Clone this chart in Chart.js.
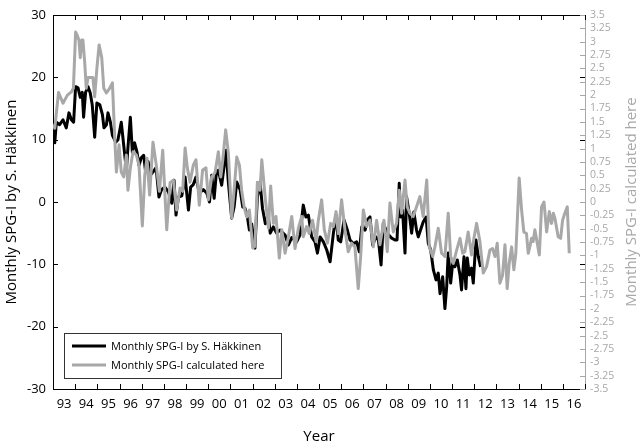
<!DOCTYPE html>
<html>
<head>
<meta charset="utf-8">
<script src="https://cdn.jsdelivr.net/npm/chart.js@4/dist/chart.umd.min.js"></script>
<style>
html,body{margin:0;padding:0;background:#fff;}
canvas{display:block;}
</style>
</head>
<body>
<canvas id="c" width="644" height="447"></canvas>
<script>
// ---------- data ----------
const blackYears = [
1993.00,1993.08,1993.15,1993.30,1993.45,1993.60,1993.72,1993.83,1993.93,
1994.02,1994.13,1994.23,1994.32,1994.38,1994.47,1994.58,1994.68,1994.77,1994.88,1994.98,
1995.11,1995.23,1995.30,1995.41,1995.48,1995.59,1995.68,1995.83,1995.93,
1996.08,1996.19,1996.31,1996.38,1996.49,1996.58,1996.68,1996.79,1996.88,1996.98,
1997.09,1997.18,1997.29,1997.39,1997.51,1997.65,1997.78,1997.90,
1998.05,1998.21,1998.36,1998.46,1998.55,1998.66,1998.81,1998.96,
1999.11,1999.21,1999.33,1999.45,1999.60,1999.78,1999.94,
2000.06,2000.16,2000.27,2000.36,2000.46,2000.61,2000.81,2000.91,
2001.06,2001.17,2001.29,2001.44,2001.56,2001.66,2001.77,2001.86,2001.96,
2002.11,2002.22,2002.34,2002.45,2002.58,2002.70,2002.80,2002.94,
2003.09,2003.24,2003.47,2003.62,2003.77,2003.99,
2004.14,2004.29,2004.41,2004.52,2004.67,2004.82,2004.93,
2005.05,2005.20,2005.35,2005.50,2005.65,2005.77,2005.87,2005.98,
2006.13,2006.28,2006.40,2006.55,2006.70,2006.82,2006.93,
2007.08,2007.18,2007.30,2007.42,2007.57,2007.68,2007.80,2007.90,
2008.08,2008.28,2008.43,2008.52,2008.62,2008.68,2008.77,2008.88,2008.95,
2009.07,2009.18,2009.28,2009.40,2009.48,2009.58,2009.70,2009.83,2009.93,
2010.04,2010.16,2010.28,2010.38,2010.46,2010.58,2010.68,2010.76,2010.83,2010.94,
2011.03,2011.13,2011.24,2011.36,2011.43,2011.54,2011.63,2011.69,2011.78,2011.88,2011.96,
2012.08,2012.19,2012.29
];
const blackValues = [
12.8,9.5,12.8,12.4,13.2,11.9,14.3,13.2,12.8,
18.5,18.3,16.8,17.6,13.6,17.6,18.5,17.5,15.6,10.4,15.9,
15.6,14.0,11.9,12.4,14.3,12.8,10.7,9.6,10.0,
12.8,9.1,5.1,8.7,13.6,8.0,9.5,8.0,5.9,7.1,
7.5,4.8,6.5,4.3,4.8,5.5,0.8,2.0,
2.4,1.6,-0.2,3.5,-2.1,0.8,1.0,4.0,
-1.3,2.4,2.8,4.0,1.4,2.0,1.4,
0.0,4.3,0.6,4.3,5.1,2.7,8.3,3.2,
-2.6,-0.8,3.2,2.0,-0.8,-1.0,-2.4,-4.5,-3.5,
-7.4,0.8,3.2,-1.0,-3.5,-2.0,-5.0,-4.0,
-5.0,-4.5,-5.3,-6.9,-5.7,-6.4,
-5.3,-0.5,-2.4,-2.1,-5.6,-6.4,-8.2,
-5.6,-6.4,-7.7,-9.6,-5.0,-2.1,-6.1,-6.4,
-2.9,-4.5,-6.1,-6.7,-6.4,-8.0,-4.0,
-4.5,-2.9,-2.4,-6.9,-5.6,-6.1,-10.1,-3.4,
-5.0,-5.8,-6.1,-6.1,3.0,-2.4,-1.3,-8.2,0.85,
-1.8,-5.0,-1.6,-4.5,-5.6,-4.5,-3.2,-2.4,-6.6,
-7.7,-10.9,-12.5,-11.4,-14.7,-12.0,-17.1,-13.6,-8.2,-13.0,
-9.8,-10.4,-9.3,-11.7,-14.1,-8.8,-13.9,-9.0,-11.7,-10.6,-13.0,
-6.1,-8.8,-10.4
];
const grayYears = [
1993.00,1993.08,1993.25,1993.45,1993.65,1993.83,1993.92,
1994.02,1994.08,1994.17,1994.23,1994.30,1994.35,1994.43,1994.50,1994.58,1994.80,1994.88,1994.98,
1995.08,1995.20,1995.29,1995.41,1995.56,1995.68,1995.78,1995.86,1995.98,
1996.08,1996.19,1996.31,1996.38,1996.49,1996.61,1996.76,1996.88,
1997.03,1997.14,1997.24,1997.36,1997.51,1997.66,1997.80,1997.95,
1998.13,1998.28,1998.43,1998.58,1998.73,1998.85,1998.96,
1999.06,1999.18,1999.33,1999.45,1999.60,1999.75,1999.90,
2000.01,2000.16,2000.31,2000.46,2000.57,2000.66,2000.79,2000.91,
2001.06,2001.17,2001.29,2001.41,2001.51,2001.62,2001.74,2001.86,
2002.01,2002.11,2002.22,2002.34,2002.42,2002.57,2002.72,2002.82,2002.94,
2003.06,2003.21,2003.32,2003.47,2003.62,2003.77,2003.92,
2004.07,2004.22,2004.29,2004.44,2004.56,2004.71,2004.87,2004.97,
2005.12,2005.24,2005.38,2005.53,2005.65,2005.77,2005.87,
2006.02,2006.17,2006.32,2006.47,2006.62,2006.77,2006.88,
2007.00,2007.15,2007.30,2007.45,2007.60,2007.75,2007.93,
2008.08,2008.20,2008.35,2008.50,2008.62,2008.73,2008.88,2008.98,
2009.10,2009.25,2009.40,2009.55,2009.70,2009.86,2009.98,
2010.13,2010.23,2010.38,2010.53,2010.68,2010.83,2010.94,
2011.06,2011.21,2011.36,2011.48,2011.58,2011.73,2011.88,2011.99,
2012.11,2012.26,2012.41,2012.56,2012.71,2012.83,2012.94,
2013.04,2013.16,2013.28,2013.39,2013.49,2013.58,2013.69,2013.79,2013.88,
2014.03,2014.14,2014.24,2014.36,2014.44,2014.51,2014.59,2014.66,2014.74,2014.82,2014.94,
2015.04,2015.15,2015.27,2015.39,2015.49,2015.57,2015.64,2015.79,2015.90,2015.99,
2016.09,2016.20,2016.29
];
const grayValues = [
1.45,1.38,2.05,1.85,2.0,2.06,2.13,
3.18,3.13,3.03,2.7,3.03,3.03,2.62,2.13,2.33,2.33,1.97,2.5,
2.94,2.7,2.13,2.04,2.13,2.23,1.25,0.56,1.07,
0.56,0.47,0.88,0.22,0.64,0.94,0.88,0.69,
-0.45,0.5,0.82,0.13,1.12,0.69,0.2,0.97,
-0.52,0.36,0.41,-0.15,0.26,0.2,1.01,
0.64,0.37,0.69,0.79,-0.06,0.6,0.64,
0.04,0.47,0.55,0.94,0.47,0.79,1.35,0.92,
-0.3,0.22,0.84,0.69,0.22,-0.09,-0.28,-0.15,
-0.86,-0.83,0.37,0.22,0.79,0.09,-0.49,0.3,-0.4,
-0.27,-1.05,-0.52,-0.96,-0.65,-0.27,-0.87,
-0.49,-0.27,-0.65,-0.46,-0.59,-0.34,-0.74,-0.34,
0.04,-0.52,-0.77,-0.4,-0.46,-0.18,-0.59,
0.04,-0.52,-0.93,-0.77,-0.84,-1.62,-1.02,
-0.15,-0.46,-0.34,-0.84,-0.34,-0.8,-0.34,
-0.93,-0.02,-0.56,-0.4,0.22,-0.21,0.41,-0.09,
-0.21,-0.27,-0.09,0.1,-0.27,0.41,-0.84,
-1.02,-0.84,-0.49,-0.96,-1.02,-0.21,-1.02,
-1.15,-0.9,-0.68,-0.96,-0.93,-0.56,-0.99,-0.68,
-0.4,-0.74,-1.33,-1.21,-0.9,-0.87,-1.02,
-0.77,-1.52,-1.37,-0.8,-1.62,-1.15,-0.84,-1.27,-0.96,
0.45,-0.15,-0.56,-0.59,-0.96,-0.84,-0.68,-0.74,-0.52,-0.71,-0.99,
-0.09,0.0,-0.56,-0.18,-0.4,-0.21,-0.3,-0.65,-0.68,-0.34,
-0.21,-0.09,-0.96
];
const xTickLabels = ['93','94','95','96','97','98','99','00','01','02','03','04','05','06','07','08','09','10','11','12','13','14','15','16'];
const xFirstYear = 1993;
const leftTicks = [-30,-20,-10,0,10,20,30];
const rightTicks = [-3.5,-3.25,-3,-2.75,-2.5,-2.25,-2,-1.75,-1.5,-1.25,-1,-0.75,-0.5,-0.25,0,0.25,0.5,0.75,1,1.25,1.5,1.75,2,2.25,2.5,2.75,3,3.25,3.5];
const seriesNames = ['Monthly SPG-I by S. Häkkinen','Monthly SPG-I calculated here'];
const leftTitle = 'Monthly SPG-I by S. Häkkinen';
const rightTitle = 'Monthly SPG-I calculated here';
const xTitle = 'Year';

// ---------- styling ----------
const FONT = "'Open Sans', 'DejaVu Sans', sans-serif";
const GRAY = '#a8a8a8';
const BLACK = '#000000';

const yearBoundaries = xTickLabels.map((_, i) => xFirstYear + i).concat([xFirstYear + xTickLabels.length]);
const labelPositions = xTickLabels.map((_, i) => xFirstYear + i + 0.5);

const blackData = blackYears.map((x, i) => ({x, y: blackValues[i]}));
const grayData = grayYears.map((x, i) => ({x, y: grayValues[i]}));

const framePlugin = {
  id: 'frame',
  afterDraw(chart) {
    const {ctx, chartArea: a, scales} = chart;
    const xs = scales.x, yl = scales.y, yr = scales.y2;
    ctx.save();
    ctx.lineWidth = 1;
    ctx.strokeStyle = BLACK;
    ctx.beginPath();
    ctx.moveTo(a.left, Math.round(a.top) + 0.5);
    ctx.lineTo(a.right, Math.round(a.top) + 0.5);
    yearBoundaries.forEach(v => {
      const px = Math.round(xs.getPixelForValue(v)) + 0.5;
      ctx.moveTo(px, a.bottom); ctx.lineTo(px, a.bottom - 5);
      ctx.moveTo(px, a.top); ctx.lineTo(px, a.top + 5);
    });
    leftTicks.forEach(v => {
      const py = Math.round(yl.getPixelForValue(v)) + 0.5;
      ctx.moveTo(a.left, py); ctx.lineTo(a.left + 5, py);
      ctx.moveTo(a.right, py); ctx.lineTo(a.right - 5, py);
    });
    ctx.stroke();
    ctx.strokeStyle = GRAY;
    ctx.beginPath();
    rightTicks.forEach(v => {
      const py = Math.round(yr.getPixelForValue(v)) + 0.5;
      ctx.moveTo(a.right, py); ctx.lineTo(a.right - 5, py);
    });
    ctx.stroke();
    // right axis title (reads bottom to top)
    ctx.save();
    ctx.translate(632, (a.top + a.bottom) / 2);
    ctx.rotate(-Math.PI / 2);
    ctx.fillStyle = GRAY;
    ctx.font = "15px " + FONT;
    ctx.textAlign = 'center';
    ctx.textBaseline = 'middle';
    ctx.fillText(rightTitle, 0, 0);
    ctx.restore();
    // legend box
    const lx = 64, ly = 333, lw = 217, lh = 45;
    ctx.fillStyle = '#fff';
    ctx.fillRect(lx, ly, lw, lh);
    ctx.strokeStyle = '#333';
    ctx.lineWidth = 1;
    ctx.strokeRect(lx + 0.5, ly + 0.5, lw, lh);
    const entries = [{c: BLACK, t: seriesNames[0], y: ly + 13}, {c: GRAY, t: seriesNames[1], y: ly + 32}];
    ctx.font = "11px " + FONT;
    ctx.textAlign = 'left';
    ctx.textBaseline = 'middle';
    entries.forEach(e => {
      ctx.strokeStyle = e.c;
      ctx.lineWidth = 3;
      ctx.beginPath();
      ctx.moveTo(lx + 8, e.y); ctx.lineTo(lx + 42, e.y);
      ctx.stroke();
      ctx.fillStyle = '#000';
      ctx.fillText(e.t, lx + 47, e.y + 0.5);
    });
    ctx.restore();
  }
};

new Chart(document.getElementById('c'), {
  type: 'line',
  data: {
    datasets: [
      {label: seriesNames[1], data: grayData, yAxisID: 'y2', borderColor: GRAY, borderWidth: 3, pointRadius: 0, tension: 0, borderJoinStyle: 'round', order: 0},
      {label: seriesNames[0], data: blackData, yAxisID: 'y', borderColor: BLACK, borderWidth: 3, pointRadius: 0, tension: 0, borderJoinStyle: 'round', order: 1}
    ]
  },
  options: {
    responsive: false,
    animation: false,
    events: [],
    layout: {padding: {top: 15, left: 0, right: 0, bottom: 0}},
    plugins: {legend: {display: false}, tooltip: {enabled: false}},
    scales: {
      x: {
        type: 'linear', position: 'bottom', min: 1993, max: 2017,
        afterBuildTicks: s => { s.ticks = labelPositions.map(v => ({value: v})); },
        afterFit: s => { s.height = 58; },
        grid: {display: false, drawTicks: false},
        border: {display: true, color: BLACK, width: 1},
        ticks: {autoSkip: false, maxRotation: 0, minRotation: 0, padding: 7, color: BLACK,
                font: {family: FONT, size: 13},
                callback: (v, i) => xTickLabels[i]},
        title: {display: true, text: xTitle, color: BLACK, font: {family: FONT, size: 15}, padding: {top: 0, bottom: 1}}
      },
      y: {
        type: 'linear', position: 'left', min: -30, max: 30,
        afterBuildTicks: s => { s.ticks = leftTicks.map(v => ({value: v})); },
        afterFit: s => { s.width = 53; },
        grid: {display: false, drawTicks: false},
        border: {display: true, color: BLACK, width: 1},
        ticks: {padding: 7, color: BLACK, font: {family: FONT, size: 13}, callback: v => String(v)},
        title: {display: true, text: leftTitle, color: BLACK, font: {family: FONT, size: 15}, padding: {top: 3, bottom: 0}}
      },
      y2: {
        type: 'linear', position: 'right', min: -3.5, max: 3.5,
        afterBuildTicks: s => { s.ticks = rightTicks.map(v => ({value: v})); },
        afterFit: s => { s.width = 59; },
        grid: {display: false, drawTicks: false},
        border: {display: true, color: GRAY, width: 1},
        ticks: {padding: 5, color: GRAY, autoSkip: false, font: {family: FONT, size: 10.5}, callback: v => String(v)}
      }
    }
  },
  plugins: [framePlugin]
});
</script>
</body>
</html>
